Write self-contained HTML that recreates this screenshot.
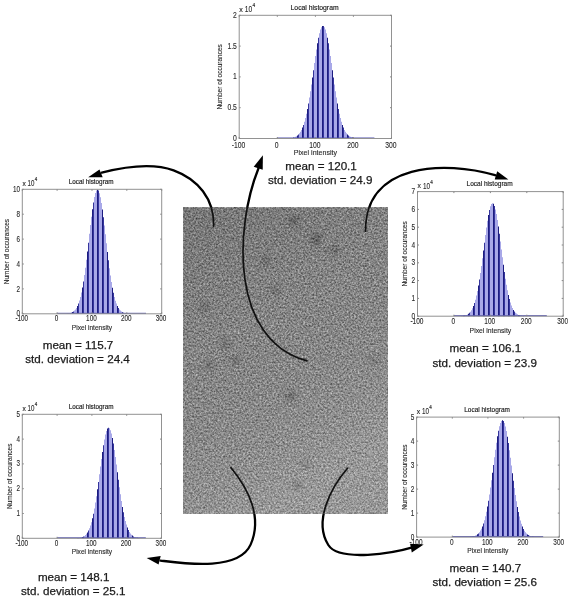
<!DOCTYPE html>
<html><head><meta charset="utf-8"><style>html,body{margin:0;padding:0;background:#fff;width:571px;height:600px;overflow:hidden}svg{display:block;filter:blur(0.35px);will-change:transform}</style></head>
<body>
<svg width="571" height="600" viewBox="0 0 571 600" font-family='"Liberation Sans", sans-serif'>
<defs>
<filter id="nz" x="0" y="0" width="100%" height="100%" color-interpolation-filters="sRGB">
<feTurbulence type="fractalNoise" baseFrequency="0.55" numOctaves="3" seed="7" result="t"/>
<feColorMatrix type="matrix" values="0.66 0 0 0 0.215  0.66 0 0 0 0.215  0.66 0 0 0 0.215  0 0 0 0 1" result="g"/>
<feGaussianBlur stdDeviation="0.45"/>
</filter>
<filter id="sb" x="-10%" y="-10%" width="120%" height="120%"><feGaussianBlur stdDeviation="2.5"/></filter>
<clipPath id="oclip"><path clip-rule="evenodd" d="M0 0H571V600H0Z M183.4 207.8V513.8H388V207.8Z"/></clipPath>
<clipPath id="nclip2"><rect x="183.4" y="207.8" width="204.6" height="306"/></clipPath>
<clipPath id="nclip"><rect x="183.4" y="207.8" width="204.6" height="306"/></clipPath>
<linearGradient id="ng" x1="0" y1="0" x2="0.35" y2="1">
<stop offset="0" stop-color="#000" stop-opacity="0.15"/>
<stop offset="0.45" stop-color="#000" stop-opacity="0.04"/>
<stop offset="1" stop-color="#fff" stop-opacity="0.12"/>
</linearGradient>
</defs>
<rect width="571" height="600" fill="#fff"/>
<rect x="183.4" y="207.8" width="204.6" height="306" fill="#808080" filter="url(#nz)"/>
<g clip-path="url(#nclip)" filter="url(#sb)"><circle cx="294" cy="221" r="5" fill="#000" opacity="0.22"/><circle cx="316" cy="239" r="6" fill="#000" opacity="0.22"/><circle cx="334" cy="250" r="5" fill="#000" opacity="0.15"/><circle cx="266" cy="261" r="5" fill="#000" opacity="0.15"/><circle cx="204.5" cy="307.5" r="4" fill="#000" opacity="0.2"/><circle cx="275" cy="290" r="5" fill="#000" opacity="0.15"/><circle cx="225" cy="344" r="5" fill="#000" opacity="0.18"/><circle cx="235" cy="360" r="5" fill="#000" opacity="0.15"/><circle cx="209" cy="365" r="5" fill="#000" opacity="0.15"/><circle cx="291" cy="396" r="6" fill="#000" opacity="0.18"/><circle cx="305" cy="464" r="5" fill="#000" opacity="0.15"/><circle cx="298" cy="486" r="5" fill="#000" opacity="0.15"/><circle cx="374" cy="360" r="5" fill="#000" opacity="0.12"/></g>
<rect x="183.4" y="207.8" width="204.6" height="306" fill="url(#ng)"/>
<path fill="#a8a8e8" d="M289 138.3h1V138.5h-1zM290 138.2h1V138.5h-1zM291 138.0h1V138.5h-1zM294 137.3h1V138.5h-1zM295 136.8h1V138.5h-1zM296 136.2h1V138.5h-1zM299 133.3h1V138.5h-1zM300 131.8h1V138.5h-1zM301 129.9h1V138.5h-1zM304 121.7h1V138.5h-1zM305 118.0h1V138.5h-1zM306 113.7h1V138.5h-1zM309 97.6h1V138.5h-1zM310 91.3h1V138.5h-1zM311 84.5h1V138.5h-1zM314 63.1h1V138.5h-1zM315 56.1h1V138.5h-1zM316 49.4h1V138.5h-1zM319 33.2h1V138.5h-1zM320 29.6h1V138.5h-1zM321 27.2h1V138.5h-1zM324 27.2h1V138.5h-1zM325 29.6h1V138.5h-1zM326 33.2h1V138.5h-1zM329 49.4h1V138.5h-1zM330 56.0h1V138.5h-1zM331 63.1h1V138.5h-1zM334 84.5h1V138.5h-1zM335 91.2h1V138.5h-1zM336 97.6h1V138.5h-1zM339 113.7h1V138.5h-1zM340 118.0h1V138.5h-1zM341 121.7h1V138.5h-1zM344 129.9h1V138.5h-1zM345 131.7h1V138.5h-1zM346 133.3h1V138.5h-1zM349 136.2h1V138.5h-1zM350 136.8h1V138.5h-1zM351 137.3h1V138.5h-1zM354 138.0h1V138.5h-1zM355 138.2h1V138.5h-1zM356 138.3h1V138.5h-1z"/>
<path fill="#35359c" d="M293 137.6h1V138.5h-1zM298 134.5h1V138.5h-1zM303 124.9h1V138.5h-1zM308 103.5h1V138.5h-1zM313 70.3h1V138.5h-1zM318 37.8h1V138.5h-1zM323 25.9h1V138.5h-1zM328 43.2h1V138.5h-1zM333 77.4h1V138.5h-1zM338 108.9h1V138.5h-1zM343 127.6h1V138.5h-1zM348 135.5h1V138.5h-1zM353 137.9h1V138.5h-1z"/>
<path fill="#1c1c80" d="M292 137.9h1V138.5h-1zM297 135.5h1V138.5h-1zM302 127.6h1V138.5h-1zM307 108.9h1V138.5h-1zM312 77.5h1V138.5h-1zM317 43.2h1V138.5h-1zM322 25.9h1V138.5h-1zM327 37.8h1V138.5h-1zM332 70.2h1V138.5h-1zM337 103.5h1V138.5h-1zM342 124.9h1V138.5h-1zM347 134.5h1V138.5h-1zM352 137.6h1V138.5h-1zM357 138.3h1V138.5h-1z"/>
<line x1="277.3" y1="138.0" x2="374.4" y2="138.0" stroke="#5050b0" stroke-width="1"/>
<rect x="239.2" y="15.3" width="152.3" height="123.2" fill="none" stroke="#929292" stroke-width="1"/>
<path d="M239.2 138.5v-1.5M239.2 15.3v1.5M277.3 138.5v-1.5M277.3 15.3v1.5M315.4 138.5v-1.5M315.4 15.3v1.5M353.4 138.5v-1.5M353.4 15.3v1.5M391.5 138.5v-1.5M391.5 15.3v1.5M239.2 138.5h1.5M391.5 138.5h-1.5M239.2 107.7h1.5M391.5 107.7h-1.5M239.2 76.9h1.5M391.5 76.9h-1.5M239.2 46.1h1.5M391.5 46.1h-1.5M239.2 15.3h1.5M391.5 15.3h-1.5" stroke="#888" stroke-width="1" fill="none"/>
<g font-size="8.94" fill="#2a2a2a" stroke="#2a2a2a" stroke-width="0.12"><text transform="translate(238.6 147.70) scale(0.76 1)" text-anchor="middle">-100</text><text transform="translate(276.7 147.70) scale(0.76 1)" text-anchor="middle">0</text><text transform="translate(314.8 147.70) scale(0.76 1)" text-anchor="middle">100</text><text transform="translate(352.8 147.70) scale(0.76 1)" text-anchor="middle">200</text><text transform="translate(390.9 147.70) scale(0.76 1)" text-anchor="middle">300</text><text transform="translate(236.9 140.90) scale(0.76 1)" text-anchor="end">0</text><text transform="translate(236.9 110.10) scale(0.76 1)" text-anchor="end">0.5</text><text transform="translate(236.9 79.30) scale(0.76 1)" text-anchor="end">1</text><text transform="translate(236.9 48.50) scale(0.76 1)" text-anchor="end">1.5</text><text transform="translate(236.9 17.70) scale(0.76 1)" text-anchor="end">2</text></g>
<text x="239.3" y="12.0" font-size="7.07" fill="#2a2a2a" stroke="#2a2a2a" stroke-width="0.15">x</text>
<text transform="translate(244.8 12.3) scale(0.76 1)" font-size="8.74" fill="#2a2a2a" stroke="#2a2a2a" stroke-width="0.12">10</text>
<text x="252.5" y="7.4" font-size="4.78" fill="#2a2a2a" stroke="#2a2a2a" stroke-width="0.15">4</text>
<text x="314.6" y="10.0" font-size="6.81" fill="#1a1a1a" stroke="#1a1a1a" stroke-width="0.15" text-anchor="middle">Local histogram</text>
<text x="315.4" y="155.3" font-size="7.07" fill="#2a2a2a" stroke="#2a2a2a" stroke-width="0.12" text-anchor="middle">Pixel intensity</text>
<text x="222.5" y="76.9" font-size="6.5" fill="#2a2a2a" stroke="#2a2a2a" stroke-width="0.12" text-anchor="middle" transform="rotate(-90 222.5 76.9)">Number of occurances</text>
<path fill="#a8a8e8" d="M66 313.6h1V313.8h-1zM69 313.2h1V313.8h-1zM70 313.0h1V313.8h-1zM71 312.6h1V313.8h-1zM74 310.6h1V313.8h-1zM75 309.4h1V313.8h-1zM76 307.9h1V313.8h-1zM79 300.5h1V313.8h-1zM80 296.9h1V313.8h-1zM81 292.5h1V313.8h-1zM84 275.0h1V313.8h-1zM85 267.7h1V313.8h-1zM86 259.8h1V313.8h-1zM89 233.8h1V313.8h-1zM90 225.1h1V313.8h-1zM91 216.8h1V313.8h-1zM94 197.0h1V313.8h-1zM95 193.0h1V313.8h-1zM96 190.5h1V313.8h-1zM99 193.2h1V313.8h-1zM100 197.3h1V313.8h-1zM101 202.9h1V313.8h-1zM104 225.6h1V313.8h-1zM105 234.3h1V313.8h-1zM106 243.2h1V313.8h-1zM109 268.2h1V313.8h-1zM110 275.4h1V313.8h-1zM111 282.0h1V313.8h-1zM114 297.1h1V313.8h-1zM115 300.7h1V313.8h-1zM116 303.6h1V313.8h-1zM119 309.5h1V313.8h-1zM120 310.6h1V313.8h-1zM121 311.5h1V313.8h-1zM124 313.0h1V313.8h-1zM125 313.3h1V313.8h-1zM126 313.4h1V313.8h-1z"/>
<path fill="#35359c" d="M68 313.4h1V313.8h-1zM73 311.5h1V313.8h-1zM78 303.5h1V313.8h-1zM83 281.6h1V313.8h-1zM88 242.7h1V313.8h-1zM93 202.5h1V313.8h-1zM98 190.6h1V313.8h-1zM103 217.3h1V313.8h-1zM108 260.3h1V313.8h-1zM113 292.8h1V313.8h-1zM118 308.0h1V313.8h-1zM123 312.7h1V313.8h-1zM128 313.6h1V313.8h-1z"/>
<path fill="#1c1c80" d="M67 313.6h1V313.8h-1zM72 312.1h1V313.8h-1zM77 305.9h1V313.8h-1zM82 287.5h1V313.8h-1zM87 251.4h1V313.8h-1zM92 209.2h1V313.8h-1zM97 189.7h1V313.8h-1zM102 209.6h1V313.8h-1zM107 251.9h1V313.8h-1zM112 287.8h1V313.8h-1zM117 306.1h1V313.8h-1zM122 312.2h1V313.8h-1zM127 313.6h1V313.8h-1z"/>
<line x1="57.1" y1="313.3" x2="146.0" y2="313.3" stroke="#5050b0" stroke-width="1"/>
<rect x="22.3" y="189.3" width="139.4" height="124.5" fill="none" stroke="#929292" stroke-width="1"/>
<path d="M22.3 313.8v-1.5M22.3 189.3v1.5M57.1 313.8v-1.5M57.1 189.3v1.5M92.0 313.8v-1.5M92.0 189.3v1.5M126.8 313.8v-1.5M126.8 189.3v1.5M161.7 313.8v-1.5M161.7 189.3v1.5M22.3 313.8h1.5M161.7 313.8h-1.5M22.3 288.9h1.5M161.7 288.9h-1.5M22.3 264.0h1.5M161.7 264.0h-1.5M22.3 239.1h1.5M161.7 239.1h-1.5M22.3 214.2h1.5M161.7 214.2h-1.5M22.3 189.3h1.5M161.7 189.3h-1.5" stroke="#888" stroke-width="1" fill="none"/>
<g font-size="8.34" fill="#2a2a2a" stroke="#2a2a2a" stroke-width="0.12"><text transform="translate(21.7 321.39) scale(0.76 1)" text-anchor="middle">-100</text><text transform="translate(56.5 321.39) scale(0.76 1)" text-anchor="middle">0</text><text transform="translate(91.4 321.39) scale(0.76 1)" text-anchor="middle">100</text><text transform="translate(126.2 321.39) scale(0.76 1)" text-anchor="middle">200</text><text transform="translate(161.1 321.39) scale(0.76 1)" text-anchor="middle">300</text><text transform="translate(20.0 316.49) scale(0.76 1)" text-anchor="end">0</text><text transform="translate(20.0 291.59) scale(0.76 1)" text-anchor="end">2</text><text transform="translate(20.0 266.69) scale(0.76 1)" text-anchor="end">4</text><text transform="translate(20.0 241.79) scale(0.76 1)" text-anchor="end">6</text><text transform="translate(20.0 216.89) scale(0.76 1)" text-anchor="end">8</text><text transform="translate(20.0 191.99) scale(0.76 1)" text-anchor="end">10</text></g>
<text x="22.4" y="186.0" font-size="6.60" fill="#2a2a2a" stroke="#2a2a2a" stroke-width="0.15">x</text>
<text transform="translate(27.5 186.3) scale(0.76 1)" font-size="8.15" fill="#2a2a2a" stroke="#2a2a2a" stroke-width="0.12">10</text>
<text x="34.7" y="181.4" font-size="4.46" fill="#2a2a2a" stroke="#2a2a2a" stroke-width="0.15">4</text>
<text x="91.2" y="184.0" font-size="6.35" fill="#1a1a1a" stroke="#1a1a1a" stroke-width="0.15" text-anchor="middle">Local histogram</text>
<text x="92.0" y="329.7" font-size="6.60" fill="#2a2a2a" stroke="#2a2a2a" stroke-width="0.12" text-anchor="middle">Pixel intensity</text>
<text x="8.6" y="251.6" font-size="6.5" fill="#2a2a2a" stroke="#2a2a2a" stroke-width="0.12" text-anchor="middle" transform="rotate(-90 8.6 251.6)">Number of occurances</text>
<path fill="#a8a8e8" d="M461 316.0h1V316.2h-1zM462 315.9h1V316.2h-1zM465 315.3h1V316.2h-1zM466 314.9h1V316.2h-1zM467 314.4h1V316.2h-1zM470 311.7h1V316.2h-1zM471 310.2h1V316.2h-1zM472 308.3h1V316.2h-1zM475 299.7h1V316.2h-1zM476 295.6h1V316.2h-1zM477 290.9h1V316.2h-1zM480 273.0h1V316.2h-1zM481 265.9h1V316.2h-1zM482 258.3h1V316.2h-1zM485 234.9h1V316.2h-1zM486 227.6h1V316.2h-1zM487 220.8h1V316.2h-1zM490 206.3h1V316.2h-1zM491 204.0h1V316.2h-1zM492 203.2h1V316.2h-1zM495 209.4h1V316.2h-1zM496 214.1h1V316.2h-1zM497 219.9h1V316.2h-1zM500 241.5h1V316.2h-1zM501 249.4h1V316.2h-1zM502 257.2h1V316.2h-1zM505 278.7h1V316.2h-1zM506 284.8h1V316.2h-1zM507 290.2h1V316.2h-1zM510 302.6h1V316.2h-1zM511 305.6h1V316.2h-1zM512 308.0h1V316.2h-1zM515 312.7h1V316.2h-1zM516 313.6h1V316.2h-1zM517 314.3h1V316.2h-1zM520 315.5h1V316.2h-1zM521 315.7h1V316.2h-1zM522 315.9h1V316.2h-1z"/>
<path fill="#35359c" d="M464 315.6h1V316.2h-1zM469 312.8h1V316.2h-1zM474 303.1h1V316.2h-1zM479 279.6h1V316.2h-1zM484 242.7h1V316.2h-1zM489 210.0h1V316.2h-1zM494 205.9h1V316.2h-1zM499 233.8h1V316.2h-1zM504 272.0h1V316.2h-1zM509 299.1h1V316.2h-1zM514 311.5h1V316.2h-1zM519 315.3h1V316.2h-1z"/>
<path fill="#1c1c80" d="M463 315.8h1V316.2h-1zM468 313.7h1V316.2h-1zM473 305.9h1V316.2h-1zM478 285.6h1V316.2h-1zM483 250.5h1V316.2h-1zM488 214.9h1V316.2h-1zM493 203.8h1V316.2h-1zM498 226.6h1V316.2h-1zM503 264.8h1V316.2h-1zM508 295.0h1V316.2h-1zM513 309.9h1V316.2h-1zM518 314.9h1V316.2h-1zM523 316.0h1V316.2h-1z"/>
<line x1="453.9" y1="315.7" x2="546.8" y2="315.7" stroke="#5050b0" stroke-width="1"/>
<rect x="417.5" y="191.6" width="145.7" height="124.6" fill="none" stroke="#929292" stroke-width="1"/>
<path d="M417.5 316.2v-1.5M417.5 191.6v1.5M453.9 316.2v-1.5M453.9 191.6v1.5M490.4 316.2v-1.5M490.4 191.6v1.5M526.8 316.2v-1.5M526.8 191.6v1.5M563.2 316.2v-1.5M563.2 191.6v1.5M417.5 316.2h1.5M563.2 316.2h-1.5M417.5 298.4h1.5M563.2 298.4h-1.5M417.5 280.6h1.5M563.2 280.6h-1.5M417.5 262.8h1.5M563.2 262.8h-1.5M417.5 245.0h1.5M563.2 245.0h-1.5M417.5 227.2h1.5M563.2 227.2h-1.5M417.5 209.4h1.5M563.2 209.4h-1.5M417.5 191.6h1.5M563.2 191.6h-1.5" stroke="#888" stroke-width="1" fill="none"/>
<g font-size="8.60" fill="#2a2a2a" stroke="#2a2a2a" stroke-width="0.12"><text transform="translate(416.9 324.08) scale(0.76 1)" text-anchor="middle">-100</text><text transform="translate(453.3 324.08) scale(0.76 1)" text-anchor="middle">0</text><text transform="translate(489.8 324.08) scale(0.76 1)" text-anchor="middle">100</text><text transform="translate(526.2 324.08) scale(0.76 1)" text-anchor="middle">200</text><text transform="translate(562.6 324.08) scale(0.76 1)" text-anchor="middle">300</text><text transform="translate(415.2 318.78) scale(0.76 1)" text-anchor="end">0</text><text transform="translate(415.2 300.98) scale(0.76 1)" text-anchor="end">1</text><text transform="translate(415.2 283.18) scale(0.76 1)" text-anchor="end">2</text><text transform="translate(415.2 265.38) scale(0.76 1)" text-anchor="end">3</text><text transform="translate(415.2 247.58) scale(0.76 1)" text-anchor="end">4</text><text transform="translate(415.2 229.78) scale(0.76 1)" text-anchor="end">5</text><text transform="translate(415.2 211.98) scale(0.76 1)" text-anchor="end">6</text><text transform="translate(415.2 194.18) scale(0.76 1)" text-anchor="end">7</text></g>
<text x="417.6" y="188.3" font-size="6.80" fill="#2a2a2a" stroke="#2a2a2a" stroke-width="0.15">x</text>
<text transform="translate(422.9 188.6) scale(0.76 1)" font-size="8.40" fill="#2a2a2a" stroke="#2a2a2a" stroke-width="0.12">10</text>
<text x="430.3" y="183.7" font-size="4.60" fill="#2a2a2a" stroke="#2a2a2a" stroke-width="0.15">4</text>
<text x="489.6" y="186.3" font-size="6.55" fill="#1a1a1a" stroke="#1a1a1a" stroke-width="0.15" text-anchor="middle">Local histogram</text>
<text x="490.4" y="332.5" font-size="6.80" fill="#2a2a2a" stroke="#2a2a2a" stroke-width="0.12" text-anchor="middle">Pixel intensity</text>
<text x="406.8" y="253.9" font-size="6.5" fill="#2a2a2a" stroke="#2a2a2a" stroke-width="0.12" text-anchor="middle" transform="rotate(-90 406.8 253.9)">Number of occurances</text>
<path fill="#a8a8e8" d="M79 537.9h1V538.3h-1zM80 537.7h1V538.3h-1zM81 537.4h1V538.3h-1zM84 535.9h1V538.3h-1zM85 535.0h1V538.3h-1zM86 533.8h1V538.3h-1zM89 528.3h1V538.3h-1zM90 525.5h1V538.3h-1zM91 522.2h1V538.3h-1zM94 508.5h1V538.3h-1zM95 502.6h1V538.3h-1zM96 496.2h1V538.3h-1zM99 474.3h1V538.3h-1zM100 466.6h1V538.3h-1zM101 459.1h1V538.3h-1zM104 439.4h1V538.3h-1zM105 434.6h1V538.3h-1zM106 431.0h1V538.3h-1zM109 428.2h1V538.3h-1zM110 430.2h1V538.3h-1zM111 433.5h1V538.3h-1zM114 450.0h1V538.3h-1zM115 457.1h1V538.3h-1zM116 464.5h1V538.3h-1zM119 487.2h1V538.3h-1zM120 494.3h1V538.3h-1zM121 500.9h1V538.3h-1zM124 517.0h1V538.3h-1zM125 521.1h1V538.3h-1zM126 524.6h1V538.3h-1zM129 531.9h1V538.3h-1zM130 533.5h1V538.3h-1zM131 534.7h1V538.3h-1zM134 536.9h1V538.3h-1zM135 537.3h1V538.3h-1zM136 537.6h1V538.3h-1zM139 538.1h1V538.3h-1z"/>
<path fill="#35359c" d="M78 538.0h1V538.3h-1zM83 536.5h1V538.3h-1zM88 530.5h1V538.3h-1zM93 513.7h1V538.3h-1zM98 481.9h1V538.3h-1zM103 445.3h1V538.3h-1zM108 427.7h1V538.3h-1zM113 443.6h1V538.3h-1zM118 479.8h1V538.3h-1zM123 512.3h1V538.3h-1zM128 530.0h1V538.3h-1zM133 536.4h1V538.3h-1zM138 538.0h1V538.3h-1z"/>
<path fill="#1c1c80" d="M77 538.1h1V538.3h-1zM82 537.0h1V538.3h-1zM87 532.4h1V538.3h-1zM92 518.2h1V538.3h-1zM97 489.2h1V538.3h-1zM102 451.9h1V538.3h-1zM107 428.6h1V538.3h-1zM112 438.0h1V538.3h-1zM117 472.2h1V538.3h-1zM122 506.9h1V538.3h-1zM127 527.6h1V538.3h-1zM132 535.6h1V538.3h-1zM137 537.8h1V538.3h-1z"/>
<line x1="57.1" y1="537.8" x2="145.8" y2="537.8" stroke="#5050b0" stroke-width="1"/>
<rect x="22.3" y="414.3" width="139.2" height="124.0" fill="none" stroke="#929292" stroke-width="1"/>
<path d="M22.3 538.3v-1.5M22.3 414.3v1.5M57.1 538.3v-1.5M57.1 414.3v1.5M91.9 538.3v-1.5M91.9 414.3v1.5M126.7 538.3v-1.5M126.7 414.3v1.5M161.5 538.3v-1.5M161.5 414.3v1.5M22.3 538.3h1.5M161.5 538.3h-1.5M22.3 513.5h1.5M161.5 513.5h-1.5M22.3 488.7h1.5M161.5 488.7h-1.5M22.3 463.9h1.5M161.5 463.9h-1.5M22.3 439.1h1.5M161.5 439.1h-1.5M22.3 414.3h1.5M161.5 414.3h-1.5" stroke="#888" stroke-width="1" fill="none"/>
<g font-size="8.34" fill="#2a2a2a" stroke="#2a2a2a" stroke-width="0.12"><text transform="translate(21.7 546.39) scale(0.76 1)" text-anchor="middle">-100</text><text transform="translate(56.5 546.39) scale(0.76 1)" text-anchor="middle">0</text><text transform="translate(91.3 546.39) scale(0.76 1)" text-anchor="middle">100</text><text transform="translate(126.1 546.39) scale(0.76 1)" text-anchor="middle">200</text><text transform="translate(160.9 546.39) scale(0.76 1)" text-anchor="middle">300</text><text transform="translate(20.0 540.79) scale(0.76 1)" text-anchor="end">0</text><text transform="translate(20.0 515.99) scale(0.76 1)" text-anchor="end">1</text><text transform="translate(20.0 491.19) scale(0.76 1)" text-anchor="end">2</text><text transform="translate(20.0 466.39) scale(0.76 1)" text-anchor="end">3</text><text transform="translate(20.0 441.59) scale(0.76 1)" text-anchor="end">4</text><text transform="translate(20.0 416.79) scale(0.76 1)" text-anchor="end">5</text></g>
<text x="22.4" y="411.0" font-size="6.60" fill="#2a2a2a" stroke="#2a2a2a" stroke-width="0.15">x</text>
<text transform="translate(27.5 411.3) scale(0.76 1)" font-size="8.15" fill="#2a2a2a" stroke="#2a2a2a" stroke-width="0.12">10</text>
<text x="34.7" y="406.4" font-size="4.46" fill="#2a2a2a" stroke="#2a2a2a" stroke-width="0.15">4</text>
<text x="91.1" y="409.0" font-size="6.35" fill="#1a1a1a" stroke="#1a1a1a" stroke-width="0.15" text-anchor="middle">Local histogram</text>
<text x="91.9" y="554.2" font-size="6.60" fill="#2a2a2a" stroke="#2a2a2a" stroke-width="0.12" text-anchor="middle">Pixel intensity</text>
<text x="12.4" y="476.3" font-size="6.5" fill="#2a2a2a" stroke="#2a2a2a" stroke-width="0.12" text-anchor="middle" transform="rotate(-90 12.4 476.3)">Number of occurances</text>
<path fill="#a8a8e8" d="M469 536.9h1V537.1h-1zM470 536.8h1V537.1h-1zM471 536.7h1V537.1h-1zM474 536.0h1V537.1h-1zM475 535.6h1V537.1h-1zM476 535.0h1V537.1h-1zM479 532.2h1V537.1h-1zM480 530.6h1V537.1h-1zM481 528.7h1V537.1h-1zM484 520.2h1V537.1h-1zM485 516.3h1V537.1h-1zM486 511.8h1V537.1h-1zM489 494.5h1V537.1h-1zM490 487.6h1V537.1h-1zM491 480.3h1V537.1h-1zM494 457.2h1V537.1h-1zM495 449.7h1V537.1h-1zM496 442.7h1V537.1h-1zM499 426.2h1V537.1h-1zM500 422.9h1V537.1h-1zM501 420.9h1V537.1h-1zM504 423.1h1V537.1h-1zM505 426.5h1V537.1h-1zM506 431.1h1V537.1h-1zM509 450.2h1V537.1h-1zM510 457.7h1V537.1h-1zM511 465.4h1V537.1h-1zM514 488.0h1V537.1h-1zM515 494.9h1V537.1h-1zM516 501.2h1V537.1h-1zM519 516.6h1V537.1h-1zM520 520.5h1V537.1h-1zM521 523.8h1V537.1h-1zM524 530.7h1V537.1h-1zM525 532.2h1V537.1h-1zM526 533.4h1V537.1h-1zM529 535.6h1V537.1h-1zM530 536.0h1V537.1h-1zM531 536.4h1V537.1h-1zM534 536.9h1V537.1h-1zM535 536.9h1V537.1h-1z"/>
<path fill="#35359c" d="M473 536.3h1V537.1h-1zM478 533.4h1V537.1h-1zM483 523.6h1V537.1h-1zM488 500.8h1V537.1h-1zM493 464.9h1V537.1h-1zM498 430.8h1V537.1h-1zM503 421.0h1V537.1h-1zM508 443.1h1V537.1h-1zM513 480.7h1V537.1h-1zM518 512.1h1V537.1h-1zM523 528.9h1V537.1h-1zM528 535.1h1V537.1h-1zM533 536.7h1V537.1h-1z"/>
<path fill="#1c1c80" d="M472 536.6h1V537.1h-1zM477 534.3h1V537.1h-1zM482 526.4h1V537.1h-1zM487 506.6h1V537.1h-1zM492 472.7h1V537.1h-1zM497 436.3h1V537.1h-1zM502 420.2h1V537.1h-1zM507 436.7h1V537.1h-1zM512 473.2h1V537.1h-1zM517 506.9h1V537.1h-1zM522 526.6h1V537.1h-1zM527 534.4h1V537.1h-1zM532 536.6h1V537.1h-1z"/>
<line x1="452.3" y1="536.6" x2="543.2" y2="536.6" stroke="#5050b0" stroke-width="1"/>
<rect x="416.6" y="417.1" width="142.7" height="120.0" fill="none" stroke="#929292" stroke-width="1"/>
<path d="M416.6 537.1v-1.5M416.6 417.1v1.5M452.3 537.1v-1.5M452.3 417.1v1.5M487.9 537.1v-1.5M487.9 417.1v1.5M523.6 537.1v-1.5M523.6 417.1v1.5M559.3 537.1v-1.5M559.3 417.1v1.5M416.6 537.1h1.5M559.3 537.1h-1.5M416.6 513.1h1.5M559.3 513.1h-1.5M416.6 489.1h1.5M559.3 489.1h-1.5M416.6 465.1h1.5M559.3 465.1h-1.5M416.6 441.1h1.5M559.3 441.1h-1.5M416.6 417.1h1.5M559.3 417.1h-1.5" stroke="#888" stroke-width="1" fill="none"/>
<g font-size="8.51" fill="#2a2a2a" stroke="#2a2a2a" stroke-width="0.12"><text transform="translate(416.0 545.25) scale(0.76 1)" text-anchor="middle">-100</text><text transform="translate(451.7 545.25) scale(0.76 1)" text-anchor="middle">0</text><text transform="translate(487.3 545.25) scale(0.76 1)" text-anchor="middle">100</text><text transform="translate(523.0 545.25) scale(0.76 1)" text-anchor="middle">200</text><text transform="translate(558.7 545.25) scale(0.76 1)" text-anchor="middle">300</text><text transform="translate(414.3 539.65) scale(0.76 1)" text-anchor="end">0</text><text transform="translate(414.3 515.65) scale(0.76 1)" text-anchor="end">1</text><text transform="translate(414.3 491.65) scale(0.76 1)" text-anchor="end">2</text><text transform="translate(414.3 467.65) scale(0.76 1)" text-anchor="end">3</text><text transform="translate(414.3 443.65) scale(0.76 1)" text-anchor="end">4</text><text transform="translate(414.3 419.65) scale(0.76 1)" text-anchor="end">5</text></g>
<text x="416.7" y="413.8" font-size="6.73" fill="#2a2a2a" stroke="#2a2a2a" stroke-width="0.15">x</text>
<text transform="translate(421.9 414.1) scale(0.76 1)" font-size="8.32" fill="#2a2a2a" stroke="#2a2a2a" stroke-width="0.12">10</text>
<text x="429.3" y="409.2" font-size="4.55" fill="#2a2a2a" stroke="#2a2a2a" stroke-width="0.15">4</text>
<text x="487.1" y="411.8" font-size="6.48" fill="#1a1a1a" stroke="#1a1a1a" stroke-width="0.15" text-anchor="middle">Local histogram</text>
<text x="487.9" y="553.3" font-size="6.73" fill="#2a2a2a" stroke="#2a2a2a" stroke-width="0.12" text-anchor="middle">Pixel intensity</text>
<text x="406.7" y="477.1" font-size="6.5" fill="#2a2a2a" stroke="#2a2a2a" stroke-width="0.12" text-anchor="middle" transform="rotate(-90 406.7 477.1)">Number of occurances</text>
<text x="285.3" y="169.7" font-size="11.65" fill="#1a1a1a" stroke="#1a1a1a" stroke-width="0.25">mean = 120.1</text>
<text x="268.0" y="184.3" font-size="11.65" fill="#1a1a1a" stroke="#1a1a1a" stroke-width="0.25">std. deviation = 24.9</text>
<text x="42.7" y="348.5" font-size="11.65" fill="#1a1a1a" stroke="#1a1a1a" stroke-width="0.25">mean = 115.7</text>
<text x="25.3" y="362.6" font-size="11.65" fill="#1a1a1a" stroke="#1a1a1a" stroke-width="0.25">std. deviation = 24.4</text>
<text x="449.6" y="352.2" font-size="11.65" fill="#1a1a1a" stroke="#1a1a1a" stroke-width="0.25">mean = 106.1</text>
<text x="432.4" y="366.5" font-size="11.65" fill="#1a1a1a" stroke="#1a1a1a" stroke-width="0.25">std. deviation = 23.9</text>
<text x="37.9" y="581.0" font-size="11.65" fill="#1a1a1a" stroke="#1a1a1a" stroke-width="0.25">mean = 148.1</text>
<text x="21.0" y="594.7" font-size="11.65" fill="#1a1a1a" stroke="#1a1a1a" stroke-width="0.25">std. deviation = 25.1</text>
<text x="449.6" y="572.2" font-size="11.65" fill="#1a1a1a" stroke="#1a1a1a" stroke-width="0.25">mean = 140.7</text>
<text x="432.4" y="586.1" font-size="11.65" fill="#1a1a1a" stroke="#1a1a1a" stroke-width="0.25">std. deviation = 25.6</text>
<path d="M213.60 226.20C214.60 198.94 197.58 179.01 173.60 170.30C151.45 162.26 124.38 166.78 101.75 172.60" fill="none" stroke="#000" stroke-width="2.3" stroke-linecap="round" clip-path="url(#oclip)"/>
<path d="M213.60 226.20C214.60 198.94 197.58 179.01 173.60 170.30C151.45 162.26 124.38 166.78 101.75 172.60" fill="none" stroke="#111" stroke-width="1.7" stroke-linecap="round" clip-path="url(#nclip2)"/>
<polygon points="88.2,177.2 99.5,169.4 102.7,177.2" fill="#000"/>
<path d="M307.00 360.90C229.86 339.86 234.63 227.90 258.50 168.30" fill="none" stroke="#000" stroke-width="2.3" stroke-linecap="round" clip-path="url(#oclip)"/>
<path d="M307.00 360.90C229.86 339.86 234.63 227.90 258.50 168.30" fill="none" stroke="#111" stroke-width="1.7" stroke-linecap="round" clip-path="url(#nclip2)"/>
<polygon points="262.9,155.3 253.7,166.7 262.7,169.7" fill="#000"/>
<path d="M365.60 231.25C364.69 161.98 445.95 160.76 495.10 175.20" fill="none" stroke="#000" stroke-width="2.3" stroke-linecap="round" clip-path="url(#oclip)"/>
<path d="M365.60 231.25C364.69 161.98 445.95 160.76 495.10 175.20" fill="none" stroke="#111" stroke-width="1.7" stroke-linecap="round" clip-path="url(#nclip2)"/>
<polygon points="508.4,179.4 497.2,171.3 494.7,179.4" fill="#000"/>
<path d="M231.00 467.70C248.50 488.77 262.73 517.45 250.60 544.60C238.59 571.49 183.29 563.32 160.50 560.60" fill="none" stroke="#000" stroke-width="2.3" stroke-linecap="round" clip-path="url(#oclip)"/>
<path d="M231.00 467.70C248.50 488.77 262.73 517.45 250.60 544.60C238.59 571.49 183.29 563.32 160.50 560.60" fill="none" stroke="#111" stroke-width="1.7" stroke-linecap="round" clip-path="url(#nclip2)"/>
<polygon points="146.7,558 160.7,555.9 158.6,564.6" fill="#000"/>
<path d="M347.50 468.30C331.33 487.06 313.11 520.90 328.30 545.00C339.31 562.47 394.82 552.71 411.50 547.70" fill="none" stroke="#000" stroke-width="2.3" stroke-linecap="round" clip-path="url(#oclip)"/>
<path d="M347.50 468.30C331.33 487.06 313.11 520.90 328.30 545.00C339.31 562.47 394.82 552.71 411.50 547.70" fill="none" stroke="#111" stroke-width="1.7" stroke-linecap="round" clip-path="url(#nclip2)"/>
<polygon points="423.7,544.4 410.1,543.7 411.8,552.4" fill="#000"/>
<rect x="567.9" y="317" width="4" height="10" fill="#fff"/>
</svg>
</body></html>
